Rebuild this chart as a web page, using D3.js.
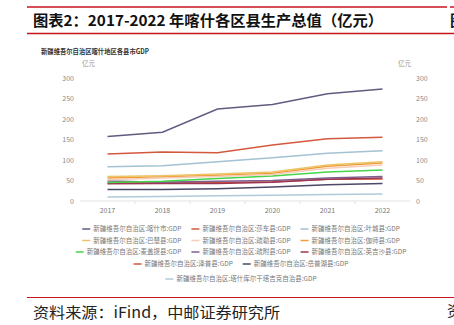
<!DOCTYPE html>
<html>
<head>
<meta charset="utf-8">
<script src="https://cdn.jsdelivr.net/npm/d3@7"></script>
<style>
  body { margin: 0; background: #fff; }
  svg { display: block; font-family: "Noto Sans CJK SC", "Noto Sans", sans-serif; }
</style>
</head>
<body>
<div id="app"></div>
<script>
const years = ['2017', '2018', '2019', '2020', '2021', '2022']
const yTicks = [0, 50, 100, 150, 200, 250, 300]

// county names + GDP (亿元)
const names = ['喀什市', '莎车县', '叶城县', '巴楚县', '疏勒县', '伽师县', '麦盖提县', '疏附县', '英吉沙县', '泽普县', '岳普湖县', '塔什库尔干塔吉克自治县']
const kashi = [158, 168, 225, 236, 262, 274]
const shache = [115, 120, 118, 137, 152, 156]
const yecheng = [84, 86, 96, 106, 117, 123]
const bachu = [60, 62, 66, 71, 88, 96]
const shule = [52, 56, 60, 65, 80, 88]
const jiashi = [56, 59, 63, 68, 85, 93]
const maigaiti = [45, 48, 55, 61, 71, 76]
const shufu = [49, 46, 48, 50, 56, 60]
const yingjisha = [42, 43, 43, 46, 53, 56]
const zepu = [44, 46, 45, 47, 53, 54]
const yuepuhu = [28, 28, 30, 34, 40, 43]
const tashi = [10, 11, 13, 14, 16, 17]
const seriesValues = [kashi, shache, yecheng, bachu, shule, jiashi, maigaiti, shufu, yingjisha, zepu, yuepuhu, tashi]
const colors = ['#5e5d80', '#d4583e', '#a3c2d2', '#ecc467', '#f6cdb6', '#f19c3c', '#46d44b', '#7d5f8f', '#9c3550', '#d9553c', '#4a4966', '#b0cad8']
// legend rows (indices into names)
const legendRows = [[0, 1, 2], [3, 4, 5], [6, 7, 8], [9, 10], [11]]

const W = 454, H = 325
const svg = d3.select('#app').append('svg').attr('width', W).attr('height', H)

// header
svg.append('line').attr('x1', 27).attr('x2', 447).attr('y1', 7).attr('y2', 7).attr('stroke', '#c8141e').attr('stroke-width', 1.5)
svg.append('line').attr('x1', 450).attr('x2', 454).attr('y1', 7).attr('y2', 7).attr('stroke', '#c8141e').attr('stroke-width', 1.5)
svg.append('line').attr('x1', 27).attr('x2', 454).attr('y1', 33.5).attr('y2', 33.5).attr('stroke', '#c8141e').attr('stroke-width', 1.5)
svg.append('text').attr('x', 33).attr('y', 26).attr('font-size', 15).attr('font-weight', 'bold').attr('fill', '#111')
  .attr('textLength', 350).attr('lengthAdjust', 'spacingAndGlyphs')
  .text('图表2：2017-2022 年喀什各区县生产总值（亿元）')
svg.append('text').attr('x', 450).attr('y', 26).attr('font-size', 15).attr('font-weight', 'bold').attr('fill', '#111').text('图')

// chart title
svg.append('text').attr('x', 41).attr('y', 54).attr('font-size', 7).attr('font-weight', 'bold').attr('fill', '#333')
  .attr('textLength', 108).attr('lengthAdjust', 'spacingAndGlyphs')
  .text('新疆维吾尔自治区喀什地区各县市GDP')

const x = d3.scaleBand().domain(years).range([80, 410])
const y = d3.scaleLinear().domain([0, 300]).range([201, 78.3])

// baseline + ticks at band edges
svg.append('line').attr('x1', 80).attr('x2', 410).attr('y1', y(0)).attr('y2', y(0)).attr('stroke', '#e3e3e3')
svg.selectAll('.bt').data(years.slice(1)).enter().append('line')
  .attr('x1', d => x(d)).attr('x2', d => x(d)).attr('y1', y(0)).attr('y2', y(0) + 3).attr('stroke', '#e3e3e3')

svg.selectAll('.xl').data(years).enter().append('text')
  .attr('x', d => x(d) + x.bandwidth() / 2).attr('y', 213).attr('text-anchor', 'middle')
  .attr('font-size', 7).attr('fill', '#777').text(d => d)

svg.selectAll('.yl').data(yTicks).enter().append('text')
  .attr('x', 74).attr('y', d => y(d) + 2.5).attr('text-anchor', 'end')
  .attr('font-size', 7).attr('fill', '#888').text(d => d)
svg.selectAll('.yr').data(yTicks).enter().append('text')
  .attr('x', 416).attr('y', d => y(d) + 2.5)
  .attr('font-size', 7).attr('fill', '#888').text(d => d)
svg.append('text').attr('x', 82).attr('y', 66).attr('font-size', 6.5).attr('fill', '#999').text('亿元')
svg.append('text').attr('x', 398).attr('y', 66).attr('font-size', 6.5).attr('fill', '#999').text('亿元')

// lines (draw in reverse so the big ones sit on top)
const line = d3.line().x((d, i) => x(years[i]) + x.bandwidth() / 2).y(d => y(d))
const order = d3.range(names.length).reverse()
svg.selectAll('.series').data(order).enter().append('path')
  .attr('d', i => line(seriesValues[i]))
  .attr('fill', 'none').attr('stroke', i => colors[i]).attr('stroke-width', 1.5)

// legend
const rowY = [229, 240.5, 252, 264, 279]
const lg = svg.append('g')
legendRows.forEach((row, r) => {
  const items = row.map(i => {
    const label = '新疆维吾尔自治区:' + names[i] + ':GDP'
    const t = lg.append('text').attr('font-size', 6.5).attr('fill', '#777').attr('y', rowY[r] + 2.3).text(label)
    return { i, t, w: t.node().getComputedTextLength() }
  })
  const gap = 10
  const total = d3.sum(items, d => d.w + 11) + gap * (items.length - 1)
  let cx = 241 - total / 2
  items.forEach(d => {
    lg.append('line').attr('x1', cx).attr('x2', cx + 8).attr('y1', rowY[r]).attr('y2', rowY[r])
      .attr('stroke', colors[d.i]).attr('stroke-width', 1.5)
    d.t.attr('x', cx + 11)
    cx += d.w + 11 + gap
  })
})

// footer
svg.append('line').attr('x1', 27).attr('x2', 454).attr('y1', 297.5).attr('y2', 297.5).attr('stroke', '#c8141e').attr('stroke-width', 1.2)
svg.append('text').attr('x', 33).attr('y', 318).attr('font-size', 15).attr('fill', '#222')
  .attr('textLength', 247).attr('lengthAdjust', 'spacingAndGlyphs')
  .text('资料来源：iFind，中邮证券研究所')
svg.append('text').attr('x', 447).attr('y', 316).attr('font-size', 15).attr('fill', '#222').text('资')
</script>
</body>
</html>
